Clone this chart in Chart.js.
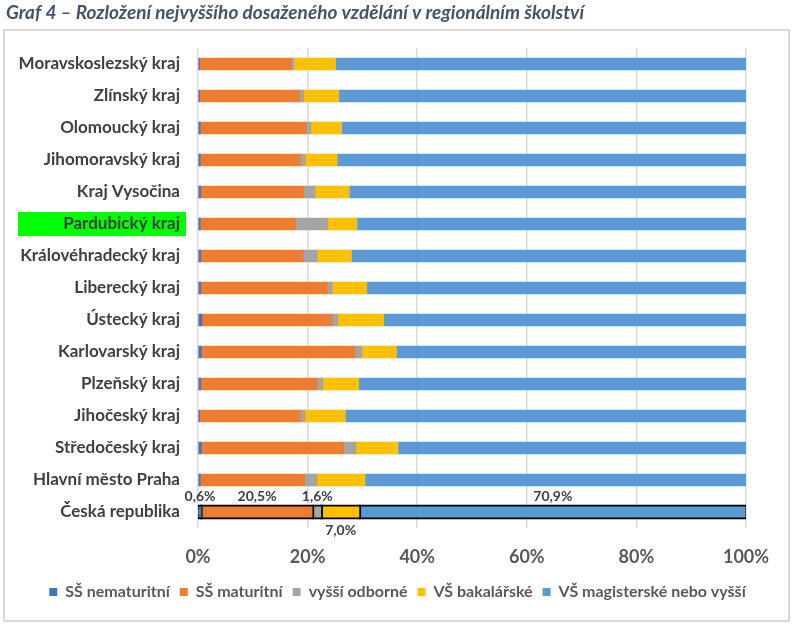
<!DOCTYPE html>
<html>
<head>
<meta charset="utf-8">
<script src="https://cdn.jsdelivr.net/npm/chart.js@4.4.1/dist/chart.umd.min.js"></script>
<style>
  html, body { margin: 0; padding: 0; background: #fff; }
  #wrap { position: relative; width: 795px; height: 629px; }
</style>
</head>
<body>
<div id="wrap"><canvas id="chart"></canvas></div>
<script>
const chartTitle = 'Graf 4 – Rozložení nejvyššího dosaženého vzdělání v regionálním školství';

const regions = [
    'Moravskoslezský kraj', 'Zlínský kraj', 'Olomoucký kraj', 'Jihomoravský kraj',
    'Kraj Vysočina', 'Pardubický kraj', 'Královéhradecký kraj', 'Liberecký kraj',
    'Ústecký kraj', 'Karlovarský kraj', 'Plzeňský kraj', 'Jihočeský kraj',
    'Středočeský kraj', 'Hlavní město Praha', 'Česká republika'
];

const seriesNames = ['SŠ nematuritní', 'SŠ maturitní', 'vyšší odborné', 'VŠ bakalářské', 'VŠ magisterské nebo vyšší'];

// podíly v % (poslední hodnota = Česká republika)
const ssNematuritni = [0.3, 0.3, 0.4, 0.4, 0.5, 0.4, 0.5, 0.5, 0.7, 0.6, 0.5, 0.3, 0.6, 0.4, 0.6];
const ssMaturitni   = [16.7, 18.3, 19.3, 18.3, 18.8, 17.4, 18.7, 23.1, 23.8, 28.1, 21.3, 18.4, 26.0, 19.1, 20.5];
const vyssiOdborne  = [0.5, 0.7, 0.9, 0.9, 2.1, 5.9, 2.6, 0.9, 1.0, 1.2, 1.0, 0.8, 2.2, 2.2, 1.6];
const vsBakalarske  = [7.6, 6.4, 5.6, 5.8, 6.2, 5.3, 6.2, 6.3, 8.4, 6.3, 6.5, 7.4, 7.7, 8.8, 7.0];
const vsMagisterske = [74.9, 74.3, 73.8, 74.6, 72.4, 71.0, 72.0, 69.2, 66.1, 63.8, 70.7, 73.1, 63.5, 69.5, 70.9];

const xTicks = [0, 20, 40, 60, 80, 100];

const colors = ['#4472C4', '#ED7D31', '#A5A5A5', '#FFC000', '#5B9BD5'];
const highlightIndex = 5;
const totalIndex = regions.length - 1;

const raw = [ssNematuritni, ssMaturitni, vyssiOdborne, vsBakalarske, vsMagisterske];
// 100% skládaný pruh - každý řádek přepočten na součet 100
const rowSums = regions.map((r, i) => raw.reduce((s, arr) => s + arr[i], 0));

const FONT = 'Lato, "Open Sans", sans-serif';

const datasets = raw.map((arr, k) => ({
    label: seriesNames[k],
    data: arr.map((v, i) => v / rowSums[i] * 100),
    backgroundColor: colors[k],
    borderColor: regions.map((r, i) => i === totalIndex ? '#000' : 'rgba(0,0,0,0)'),
    borderWidth: regions.map((r, i) => i === totalIndex ? 2 : 0),
    borderSkipped: false,
    inflateAmount: (c) => c.dataIndex === totalIndex ? 1.5 : 'auto',
    barThickness: 12
}));

const frameAndTitle = {
    id: 'frameAndTitle',
    beforeDraw(chart) {
        const ctx = chart.ctx;
        ctx.save();
        ctx.fillStyle = '#fff';
        ctx.fillRect(0, 0, chart.width, chart.height);
        ctx.strokeStyle = '#d9d9d9';
        ctx.lineWidth = 2;
        ctx.strokeRect(4, 30, 785, 591);
        ctx.font = 'italic bold 19px ' + FONT;
        ctx.fillStyle = '#44546A';
        ctx.textBaseline = 'middle';
        ctx.fillText(chartTitle, 6, 13);
        // zvýrazněný kraj
        const y = chart.scales.y.getPixelForValue(highlightIndex);
        ctx.fillStyle = '#00FF00';
        ctx.fillRect(18, y - 12, 168, 24);
        ctx.restore();
    },
    afterDatasetsDraw(chart) {
        const ctx = chart.ctx;
        ctx.save();
        ctx.font = 'bold 14px ' + FONT;
        ctx.fillStyle = '#404040';
        ctx.textAlign = 'center';
        ctx.textBaseline = 'middle';
        chart.data.datasets.forEach((ds, k) => {
            const bar = chart.getDatasetMeta(k).data[totalIndex];
            const cx = (bar.x + bar.base) / 2;
            const below = k === 3;
            const ty = below ? bar.y + 18 : bar.y - 16;
            ctx.fillText(raw[k][totalIndex].toFixed(1).replace('.', ',') + '%', cx, ty);
        });
        ctx.restore();
    }
};

new Chart(document.getElementById('chart'), {
    type: 'bar',
    data: { labels: regions, datasets: datasets },
    options: {
        indexAxis: 'y',
        responsive: true,
        maintainAspectRatio: false,
        animation: false,
        layout: { padding: { top: 48, right: 0, bottom: 19, left: 0 } },
        scales: {
            x: {
                stacked: true,
                min: 0,
                max: 100,
                afterBuildTicks: (axis) => { axis.ticks = xTicks.map(v => ({ value: v })); },
                afterFit: (axis) => { axis.height = 46; },
                grid: { color: '#d9d9d9', lineWidth: 1.5, drawTicks: false },
                border: { display: false },
                ticks: {
                    padding: 18,
                    color: '#595959',
                    font: { family: FONT, size: 18, weight: 'bold' },
                    callback: (v) => v + '%'
                }
            },
            y: {
                stacked: true,
                afterFit: (axis) => { axis.width = 198; },
                grid: { display: false, drawTicks: false },
                border: { display: false },
                ticks: {
                    padding: 18,
                    color: '#404040',
                    font: { family: FONT, size: 17, weight: 'bold' }
                }
            },
            // prázdná osa vpravo jen kvůli okraji grafu
            yRight: {
                type: 'category',
                position: 'right',
                afterFit: (axis) => { axis.width = 49; },
                grid: { display: false, drawTicks: false },
                border: { display: false },
                ticks: { display: false }
            }
        },
        plugins: {
            legend: {
                position: 'bottom',
                labels: {
                    boxWidth: 8,
                    boxHeight: 8,
                    padding: 10,
                    color: '#595959',
                    font: { family: FONT, size: 16, weight: 'bold' }
                }
            },
            tooltip: { enabled: false }
        }
    },
    plugins: [frameAndTitle]
});
</script>
</body>
</html>
